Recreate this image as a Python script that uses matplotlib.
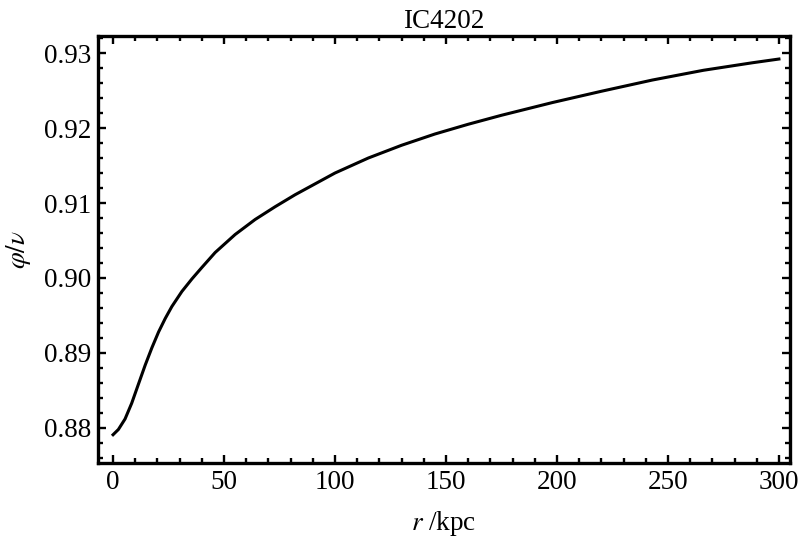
import matplotlib
matplotlib.use("Agg")
import matplotlib.pyplot as plt
from matplotlib.ticker import MultipleLocator

plt.rcParams['font.family'] = ['Liberation Serif', 'DejaVu Serif']
plt.rcParams['mathtext.fontset'] = 'stix'

# values
r_kpc = [0, 2.4, 5.4, 8.4, 11.5, 14.5, 17.5, 20.5, 23.5, 26.5, 31, 35.6, 40,
         46, 55, 64, 73, 82, 100, 115, 130, 145, 160, 175, 198, 220, 243,
         266, 288, 300]
phi_nu = [0.8791, 0.8798, 0.8812, 0.8833, 0.8859, 0.8884, 0.8907, 0.8928,
          0.8946, 0.8962, 0.8982, 0.8999, 0.9014, 0.9034, 0.9058, 0.9078,
          0.9095, 0.9111, 0.9140, 0.9160, 0.9177, 0.9192, 0.9205, 0.9217,
          0.9234, 0.9249, 0.9264, 0.9277, 0.9287, 0.9292]

fig = plt.figure(figsize=(8.01, 5.39), dpi=100)
ax = fig.add_axes([0.1223, 0.141, 0.864, 0.7922])

ax.plot(r_kpc, phi_nu, color='black', lw=2.2, solid_joinstyle='round')

ax.set_xlim(-6.8, 305)
ax.set_ylim(0.87533, 0.93227)
ax.xaxis.set_major_locator(MultipleLocator(50))
ax.xaxis.set_minor_locator(MultipleLocator(10))
ax.yaxis.set_major_locator(MultipleLocator(0.01))
ax.yaxis.set_minor_locator(MultipleLocator(0.002))
ax.yaxis.set_major_formatter(plt.FormatStrFormatter('%.2f'))

ax.tick_params(which='both', direction='in', top=True, right=True,
               labelsize=19.5, width=1.7)
ax.tick_params(which='major', length=6, pad=5)
ax.tick_params(which='minor', length=3.5)
for s in ax.spines.values():
    s.set_linewidth(2.4)

ax.set_title('IC4202', fontsize=19.5, pad=6)
ax.set_xlabel(r'$r$ /kpc', fontsize=19.5, labelpad=10)
ax.set_ylabel(r'$\varphi/\nu$', fontsize=19.5, labelpad=8)

fig.savefig('out.png', dpi=100)
